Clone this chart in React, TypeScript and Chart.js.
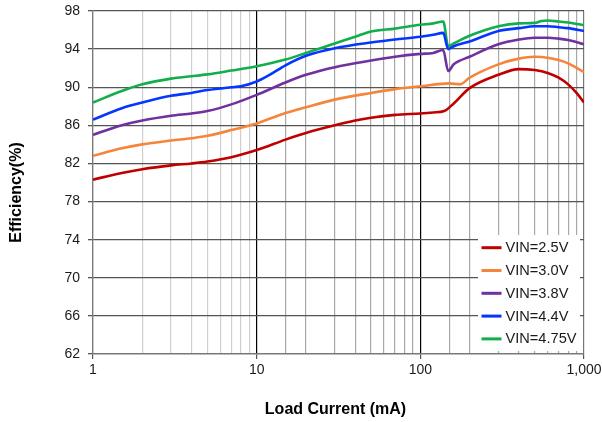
import React, { useEffect, useRef } from 'react';
import { Chart, registerables } from 'chart.js';

Chart.register(...registerables);

const FONT = '"Liberation Sans", Arial, Helvetica, sans-serif';

// ---- data ----
const seriesLabels = ['VIN=2.5V', 'VIN=3.0V', 'VIN=3.8V', 'VIN=4.4V', 'VIN=4.75V'];
const seriesColors = ['#c00000', '#f5853a', '#7030a0', '#0536ff', '#12ae4b'];

const x25 = [1, 1.5, 2, 3, 4, 5, 7, 10, 15, 20, 30, 40, 50, 70, 100, 120, 140, 160, 200, 300, 400, 500, 600, 700, 800, 900, 1000];
const y25 = [80.3, 81.0, 81.4, 81.8, 82.0, 82.2, 82.65, 83.4, 84.5, 85.2, 86.0, 86.5, 86.8, 87.1, 87.25, 87.35, 87.5, 88.3, 89.9, 91.3, 91.9, 91.8, 91.5, 91.0, 90.3, 89.4, 88.4];

const x30 = [1, 1.5, 2, 3, 4, 5, 7, 10, 15, 20, 30, 50, 70, 100, 150, 175, 200, 300, 400, 500, 600, 700, 800, 1000];
const y30 = [82.8, 83.6, 84.0, 84.4, 84.65, 84.9, 85.5, 86.2, 87.3, 87.9, 88.7, 89.4, 89.8, 90.1, 90.4, 90.3, 91.0, 92.4, 93.0, 93.2, 93.1, 92.85, 92.5, 91.6];

const x38 = [1, 1.5, 2, 3, 4, 5, 7, 10, 15, 20, 30, 50, 70, 100, 120, 138, 148, 160, 200, 300, 400, 500, 600, 700, 800, 1000];
const y38 = [85.0, 86.0, 86.5, 87.0, 87.25, 87.5, 88.2, 89.2, 90.5, 91.3, 92.1, 92.8, 93.2, 93.5, 93.6, 93.9, 91.7, 92.4, 93.2, 94.5, 95.0, 95.2, 95.2, 95.1, 94.95, 94.5];

const x44 = [1, 1.5, 2, 3, 4, 5, 7, 8, 10, 12, 15, 20, 30, 50, 70, 100, 120, 138, 148, 160, 200, 300, 400, 500, 600, 700, 800, 1000];
const y44 = [86.6, 87.8, 88.4, 89.1, 89.4, 89.7, 90.0, 90.1, 90.6, 91.3, 92.3, 93.3, 94.1, 94.7, 95.0, 95.3, 95.5, 95.7, 94.0, 94.3, 94.8, 95.9, 96.2, 96.4, 96.4, 96.3, 96.2, 95.9];

const x475 = [1, 1.5, 2, 3, 4, 5, 7, 10, 15, 20, 30, 40, 50, 70, 100, 120, 138, 148, 160, 200, 300, 400, 500, 550, 600, 700, 800, 1000];
const y475 = [88.4, 89.6, 90.3, 90.9, 91.15, 91.35, 91.75, 92.2, 92.9, 93.6, 94.6, 95.3, 95.85, 96.15, 96.55, 96.7, 96.9, 94.3, 94.6, 95.4, 96.4, 96.7, 96.75, 96.95, 97.0, 96.9, 96.8, 96.5];

const seriesX = [x25, x30, x38, x44, x475];
const seriesY = [y25, y30, y38, y44, y475];

const xTickValues = [1, 10, 100, 1000];
const xTickLabels = ['1', '10', '100', '1,000'];
const yMin = 62;
const yMax = 98;
const yStep = 4;
const xTitle = 'Load Current (mA)';
const yTitle = 'Efficiency(%)';

const majorIndex = (v: number) => xTickValues.findIndex((t) => Math.abs(t - v) < 1e-6 * t);

const insideLegend = {
  id: 'insideLegend',
  afterDatasetsDraw(chart: any) {
    const { ctx, chartArea } = chart;
    const left = chartArea.right - 106;
    const right = chartArea.right - 4;
    const top = chartArea.bottom - 119;
    const bottom = chartArea.bottom - 3;
    ctx.save();
    ctx.fillStyle = '#ffffff';
    ctx.fillRect(left, top, right - left, bottom - top);
    chart.data.datasets.forEach((ds: any, i: number) => {
      const y = top + 12.7 + i * 22.8;
      ctx.strokeStyle = ds.borderColor;
      ctx.lineWidth = 3;
      ctx.beginPath();
      ctx.moveTo(left + 3.5, y);
      ctx.lineTo(left + 23.5, y);
      ctx.stroke();
      ctx.fillStyle = '#1a1a1a';
      ctx.font = '14.6px ' + FONT;
      ctx.textAlign = 'left';
      ctx.textBaseline = 'middle';
      ctx.fillText(ds.label, left + 27.5, y + 0.5);
    });
    ctx.restore();
  },
};

const axisTitles = {
  id: 'axisTitles',
  afterDraw(chart: any) {
    const { ctx, chartArea } = chart;
    ctx.save();
    ctx.fillStyle = '#000';
    ctx.font = 'bold 16px ' + FONT;
    ctx.textAlign = 'center';
    ctx.textBaseline = 'middle';
    ctx.fillText(xTitle, (chartArea.left + chartArea.right) / 2 - 3, chart.height - 12);
    ctx.translate(16.5, (chartArea.top + chartArea.bottom) / 2 + 10);
    ctx.rotate(-Math.PI / 2);
    ctx.fillText(yTitle, 0, 0);
    ctx.restore();
  },
};

export default function App() {
  const ref = useRef<HTMLCanvasElement | null>(null);

  useEffect(() => {
    if (!ref.current) return;
    const chart = new Chart(ref.current, {
      type: 'line',
      data: {
        datasets: seriesLabels.map((label, i) => ({
          label,
          data: seriesX[i].map((x, j) => ({ x, y: seriesY[i][j] })),
          borderColor: seriesColors[i],
          backgroundColor: seriesColors[i],
          borderWidth: 2.6,
          pointRadius: 0,
          cubicInterpolationMode: 'monotone' as const,
          fill: false,
        })),
      },
      options: {
        animation: false,
        responsive: false,
        layout: { padding: { left: 0, right: 18, top: 11, bottom: 0 } },
        plugins: { legend: { display: false }, tooltip: { enabled: false } },
        scales: {
          x: {
            type: 'logarithmic',
            min: 1,
            max: 1000,
            afterFit: (s: any) => {
              s.height = 68;
              s.paddingLeft = 0;
              s.paddingRight = 0;
            },
            ticks: {
              autoSkip: false,
              maxRotation: 0,
              minRotation: 0,
              padding: 3,
              color: '#1a1a1a',
              font: { family: FONT, size: 14 },
              callback: (value: any) => {
                const i = majorIndex(Number(value));
                return i >= 0 ? xTickLabels[i] : '';
              },
            },
            grid: {
              tickLength: 5,
              lineWidth: 1.2,
              color: (c: any) => {
                const v = c.tick ? c.tick.value : 0;
                if (Math.abs(v - 10) < 1e-6 || Math.abs(v - 100) < 1e-6) return '#000000';
                if (Math.abs(v - 1) < 1e-6 || Math.abs(v - 1000) < 1e-6) return '#777777';
                if (v < 10) return '#cfcfcf';
                return '#a8a8a8';
              },
              tickColor: (c: any) => {
                const v = c.tick ? c.tick.value : 0;
                return majorIndex(v) >= 0 ? '#555555' : 'rgba(0,0,0,0)';
              },
            },
            border: { color: '#777777', width: 1.2 },
          },
          y: {
            min: yMin,
            max: yMax,
            afterFit: (s: any) => {
              s.width = 93;
              s.paddingTop = 0;
              s.paddingBottom = 0;
            },
            ticks: {
              stepSize: yStep,
              padding: 8,
              color: '#1a1a1a',
              font: { family: FONT, size: 14 },
            },
            grid: {
              color: '#555555',
              lineWidth: 1.3,
              tickLength: 5,
              tickColor: '#555555',
            },
            border: { color: '#777777', width: 1.2 },
          },
        },
      },
      plugins: [insideLegend, axisTitles],
    });
    return () => chart.destroy();
  }, []);

  return (
    <div style={{ position: 'fixed', left: 0, top: 0, width: 602, height: 422, background: '#fff' }}>
      <canvas ref={ref} width={602} height={422} style={{ display: 'block', width: 602, height: 422 }} />
    </div>
  );
}
